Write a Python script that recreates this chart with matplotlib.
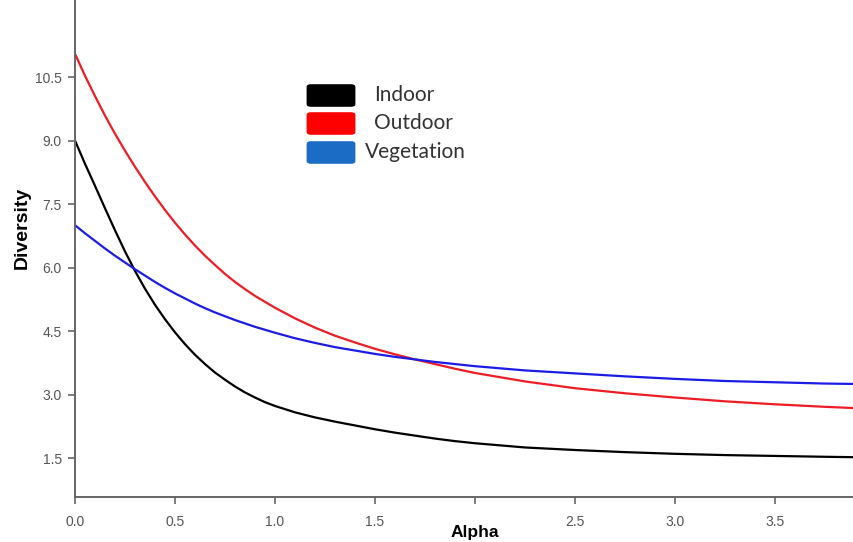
import matplotlib.pyplot as plt
from matplotlib.patches import FancyBboxPatch

# values
alpha = [0.00, 0.05, 0.10, 0.15, 0.20, 0.25, 0.30, 0.35, 0.40, 0.45, 0.50,
         0.55, 0.60, 0.65, 0.70, 0.75, 0.80, 0.85, 0.90, 0.95, 1.00,
         1.1, 1.2, 1.3, 1.4, 1.5, 1.6, 1.7, 1.8, 1.9, 2.0,
         2.25, 2.5, 2.75, 3.0, 3.25, 3.5, 3.75, 3.9]
indoor = [9.00, 8.45, 7.93, 7.40, 6.88, 6.38, 5.92, 5.50, 5.12, 4.78, 4.47,
          4.19, 3.94, 3.72, 3.52, 3.35, 3.19, 3.05, 2.93, 2.82, 2.73,
          2.58, 2.46, 2.36, 2.27, 2.18, 2.10, 2.03, 1.96, 1.90, 1.85,
          1.75, 1.69, 1.64, 1.60, 1.57, 1.55, 1.53, 1.52]
outdoor = [11.05, 10.53, 10.05, 9.59, 9.16, 8.76, 8.38, 8.02, 7.68, 7.36,
           7.06, 6.78, 6.52, 6.28, 6.06, 5.85, 5.66, 5.49, 5.33, 5.19, 5.05,
           4.80, 4.58, 4.39, 4.23, 4.08, 3.95, 3.83, 3.72, 3.61, 3.51,
           3.31, 3.15, 3.03, 2.93, 2.84, 2.77, 2.71, 2.68]
vegetation = [7.00, 6.81, 6.63, 6.45, 6.28, 6.12, 5.96, 5.81, 5.66, 5.52,
              5.39, 5.27, 5.15, 5.04, 4.94, 4.85, 4.76, 4.68, 4.60, 4.53,
              4.46, 4.33, 4.22, 4.12, 4.04, 3.96, 3.89, 3.83, 3.77, 3.72,
              3.67, 3.57, 3.50, 3.43, 3.37, 3.32, 3.29, 3.26, 3.25]

series_names = ['Indoor', 'Outdoor', 'Vegetation']
line_colors = ['black', '#ee1c24', '#1c1ce6']
legend_colors = ['black', '#ff0000', '#1a6cc4']

xticks = [0.0, 0.5, 1.0, 1.5, 2.0, 2.5, 3.0, 3.5]
xtick_labels = ['0.0', '0.5', '1.0', '1.5', '', '2.5', '3.0', '3.5']
yticks = [1.5, 3.0, 4.5, 6.0, 7.5, 9.0, 10.5]

fig = plt.figure(figsize=(8.54, 5.42), dpi=100)
ax = fig.add_axes([75 / 854, 1 - 497 / 542, 1 - 75 / 854, 497 / 542])

for ys, c in zip([indoor, outdoor, vegetation], line_colors):
    ax.plot(alpha, ys, color=c, lw=1.6)

ax.set_xlim(0, 3.895)
ax.set_ylim(0.58, 12.32)

tick_font = ['Liberation Sans Narrow', 'Liberation Sans', 'DejaVu Sans']
ax.set_xticks(xticks)
ax.set_xticklabels(xtick_labels, family=tick_font, fontsize=10, color='#555555')
ax.set_yticks(yticks)
ax.set_yticklabels([f'{v:.1f}' for v in yticks], family=tick_font,
                   fontsize=10, color='#555555')
ax.tick_params(direction='out', length=5, width=1.2, color='#666666')
ax.tick_params(axis='x', pad=8)
ax.tick_params(axis='y', pad=4.5)

ax.spines['right'].set_visible(False)
ax.spines['top'].set_visible(False)
for s in ['left', 'bottom']:
    ax.spines[s].set_color('#666666')
    ax.spines[s].set_linewidth(1.4)

# axis titles
fig.text(475 / 854, 1 - 533 / 542, 'Alpha', ha='center', va='center',
         family='Liberation Sans', fontweight='bold', fontsize=12.5)
fig.text(22 / 854, 1 - 228 / 542, 'Diversity', ha='center', va='center',
         rotation=90, family='Liberation Sans', fontweight='bold', fontsize=14)

# legend boxes
box_tops = [84, 112, 141]
text_x = [374, 374, 365]
for name, c, top, tx in zip(series_names, legend_colors, box_tops, text_x):
    fig.patches.append(FancyBboxPatch(
        (309 / 854, 1 - (top + 21) / 542), 44 / 854, 19 / 542,
        boxstyle='round,pad=0.002,rounding_size=0.004',
        transform=fig.transFigure, facecolor=c, edgecolor=c))
    fig.text(tx / 854, 1 - (top + 11) / 542, name, ha='left', va='center',
             family='Lato', fontsize=15, color='#333333')

fig.savefig('out.png', dpi=100)
